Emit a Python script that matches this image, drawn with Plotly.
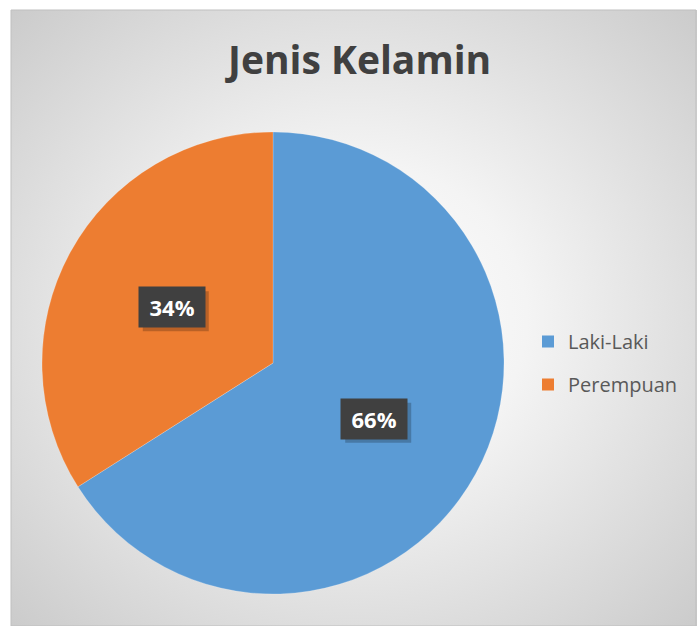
import base64, math
import plotly.graph_objects as go

labels = ["Laki-Laki", "Perempuan"]
values = [66, 34]
colors = ["#5B9BD5", "#ED7D31"]
title = "Jenis Kelamin"

W, H = 697, 626
# chart area (px)
ax0, ay0, ax1, ay1 = 11, 10, 697, 626
# pie box (px)
px0, px1, py0, py1 = 42, 504, 132, 594

svg = f'''<svg xmlns="http://www.w3.org/2000/svg" width="{ax1-ax0}" height="{ay1-ay0}" preserveAspectRatio="none">
<defs><radialGradient id="g" cx="0.5" cy="0.5" r="0.72">
<stop offset="0" stop-color="#ffffff"/><stop offset="0.35" stop-color="#f4f4f4"/><stop offset="1" stop-color="#cacaca"/>
</radialGradient></defs>
<rect x="0" y="0" width="100%" height="100%" fill="url(#g)"/></svg>'''
src = "data:image/svg+xml;base64," + base64.b64encode(svg.encode()).decode()

fig = go.Figure()
fig.add_trace(go.Pie(
    labels=labels, values=values, marker=dict(colors=colors, line=dict(color="rgba(255,255,255,0.4)", width=0.5)),
    sort=False, direction="clockwise", rotation=0, textinfo="none", hoverinfo="label+percent",
    showlegend=False,
    domain=dict(x=[px0 / W, px1 / W], y=[1 - py1 / H, 1 - py0 / H]),
))
# legend entries (one group each so spacing can be controlled)
for lab, col in zip(labels, colors):
    fig.add_trace(go.Scatter(x=[None], y=[None], mode="markers", name=lab, legendgroup=lab,
                             marker=dict(symbol="square", size=14, color=col), showlegend=True))

# data labels positioned at the middle angle of each slice
cx, cy = (px0 + px1) / 2, (py0 + py1) / 2
r = (px1 - px0) / 2
total = sum(values)
annotations = []
shapes = []
bw, bh = 66, 40
cum = 0
for v in values:
    mid = (cum + v / 2) / total * 2 * math.pi
    cum += v
    lx = cx + 0.5 * r * math.sin(mid)
    ly = cy - 0.5 * r * math.cos(mid)
    txt = f"&nbsp;<b>{round(v / total * 100)}%</b>&nbsp;"
    # drop shadow behind label box
    shapes.append(dict(type="rect", xref="paper", yref="paper", layer="above",
                       x0=(lx - bw / 2 + 4) / W, x1=(lx + bw / 2 + 4) / W,
                       y0=1 - (ly + bh / 2 + 4) / H, y1=1 - (ly - bh / 2 + 4) / H,
                       fillcolor="rgba(0,0,0,0.22)", line=dict(width=0)))
    annotations.append(dict(x=lx / W, y=1 - ly / H, xref="paper", yref="paper",
                            xanchor="center", yanchor="middle",
                            text=txt, showarrow=False, bgcolor="#404040",
                            font=dict(family="Open Sans", size=22, color="#ffffff"),
                            width=bw - 12, height=bh - 12, borderpad=6))

annotations.append(dict(x=358 / W, y=1 - 59 / H, xref="paper", yref="paper", text=f"<b>{title}</b>",
                        showarrow=False, font=dict(family="Open Sans", size=39, color="#404040"),
                        xanchor="center", yanchor="middle"))

shapes.append(dict(type="rect", xref="paper", yref="paper", x0=ax0 / W, y0=0, x1=(ax1 - 1) / W,
                   y1=1 - ay0 / H, line=dict(color="#bfbfbf", width=1)))

fig.update_layout(
    width=W, height=H, margin=dict(l=0, r=0, t=0, b=0),
    paper_bgcolor="#ffffff", plot_bgcolor="rgba(0,0,0,0)",
    xaxis=dict(visible=False), yaxis=dict(visible=False),
    showlegend=True,
    legend=dict(x=528 / W, y=1 - 322 / H, xanchor="left", yanchor="top",
                font=dict(family="Open Sans", size=20, color="#595959"),
                bgcolor="rgba(0,0,0,0)", tracegroupgap=14, itemsizing="constant"),
    annotations=annotations,
    images=[dict(source=src, xref="paper", yref="paper", x=ax0 / W, y=1 - ay0 / H,
                 sizex=(ax1 - ax0) / W, sizey=(ay1 - ay0) / H, sizing="stretch",
                 xanchor="left", yanchor="top", layer="below")],
    shapes=shapes,
)
fig.write_html("out.html", config={"displayModeBar": False},
               post_script="document.body.style.margin='0';document.body.style.overflow='hidden';")
